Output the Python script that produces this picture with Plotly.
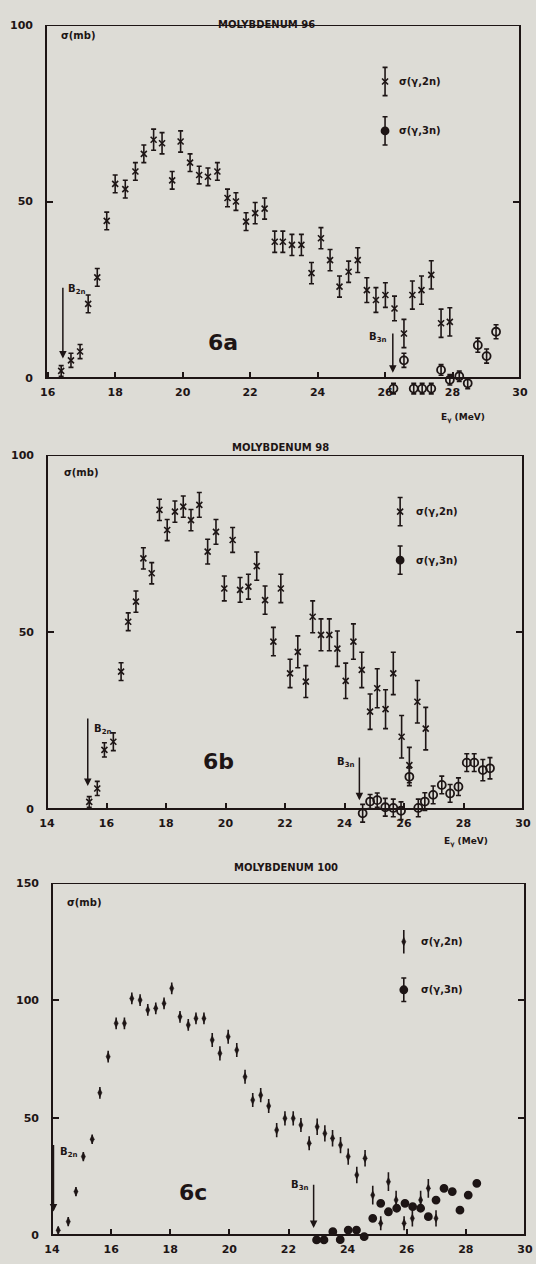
import plotly.graph_objects as go

# -------------------------------
# Data (E_gamma in MeV, sigma in mb)
# -------------------------------
# 6a  Molybdenum 96
e2n_a = [16.40, 16.69, 16.96, 17.20, 17.47, 17.75, 18.00, 18.30, 18.60, 18.85, 19.14, 19.39,
         19.69, 19.94, 20.22, 20.49, 20.75, 21.03, 21.33, 21.58, 21.88, 22.15, 22.43, 22.73,
         22.97, 23.24, 23.52, 23.82, 24.10, 24.37, 24.65, 24.92, 25.19, 25.46, 25.73, 26.01,
         26.28, 26.56, 26.81, 27.08, 27.37, 27.66, 27.92]
s2n_a = [2, 5, 7.5, 21, 28.5, 44.5, 55, 53.5, 58.5, 63.5, 67.5, 66.5,
         56, 67, 61, 57.5, 57, 58.5, 51, 50, 44.3, 46.7, 48, 38.6,
         38.6, 37.7, 37.7, 29.7, 39.6, 33.4, 25.9, 30.1, 33.4, 24.9, 22.1, 23.5,
         19.7, 12.6, 23.5, 24.9, 29.2, 15.5, 15.9]
d2n_a = [1.5, 2, 2, 2.5, 2.5, 2.5, 2.5, 2.5, 2.5, 2.5, 3, 3,
         2.5, 3, 2.5, 2.5, 2.5, 2.5, 2.5, 2.5, 2.5, 3, 3, 3,
         3, 3, 3, 3, 3, 3, 3, 3, 3.5, 3.5, 3.5, 3.5,
         3.5, 4, 4, 4, 4, 4, 4]
e3n_a = [26.25, 26.56, 26.85, 27.10, 27.37, 27.66, 27.92, 28.20, 28.45, 28.75, 29.01, 29.29]
s3n_a = [-3, 5, -3, -3, -3, 2.3, -0.5, 0.5, -1.5, 9.3, 6.2, 13.1]
d3n_a = [1.5, 2, 1.5, 1.5, 1.5, 1.5, 1.5, 1.5, 1.5, 2, 2, 2]

# 6b  Molybdenum 98
e2n_b = [15.42, 15.69, 15.93, 16.23, 16.49, 16.73, 16.99, 17.24, 17.52, 17.78, 18.04, 18.30,
         18.58, 18.84, 19.12, 19.40, 19.68, 19.96, 20.24, 20.49, 20.77, 21.05, 21.33, 21.61,
         21.86, 22.17, 22.43, 22.70, 22.93, 23.21, 23.49, 23.76, 24.04, 24.30, 24.58, 24.86,
         25.10, 25.38, 25.64, 25.92, 26.18, 26.45, 26.73]
s2n_b = [2, 5.8, 16.7, 19, 38.8, 52.9, 58.6, 70.8, 66.6, 84.5, 78.8, 84,
         85.4, 81.6, 85.9, 72.7, 78.3, 62.3, 76, 61.9, 62.8, 68.6, 59, 47.3,
         62.3, 38.3, 44.4, 36, 54.3, 49.2, 49.2, 45.3, 36.2, 47.3, 39.3, 27.5,
         34.1, 28.2, 38.3, 20.4, 12.4, 30.3, 22.7]
d2n_b = [1.5, 2, 2, 2.5, 2.5, 2.5, 3, 3, 3, 3, 3, 3,
         3, 3, 3.5, 3.5, 3.5, 3.5, 3.5, 3.5, 3.5, 4, 4, 4,
         4, 4, 4.5, 4.5, 4.5, 4.5, 4.5, 5, 5, 5, 5, 5,
         5.5, 5.5, 6, 6, 5, 6, 6]
e3n_b = [24.61, 24.86, 25.10, 25.37, 25.64, 25.90, 26.18, 26.48, 26.70, 26.98, 27.27, 27.55,
         27.83, 28.11, 28.36, 28.65, 28.89]
s3n_b = [-1.2, 2.1, 2.5, 0.5, 0.3, -0.5, 9.1, 0.3, 2.1, 4, 6.8, 4.4,
         6.3, 13.1, 13.1, 11, 11.5]
d3n_b = [2.5, 2, 2, 2.5, 2.5, 2.5, 2.5, 2.5, 2.5, 2.5, 2.5, 2.5,
         2.5, 2.5, 2.5, 3, 3]

# 6c  Molybdenum 100
e2n_c = [14.21, 14.55, 14.81, 15.06, 15.36, 15.62, 15.90, 16.17, 16.45, 16.70, 16.98, 17.24,
         17.51, 17.79, 18.05, 18.33, 18.61, 18.87, 19.14, 19.42, 19.68, 19.96, 20.25, 20.53,
         20.79, 21.06, 21.33, 21.60, 21.88, 22.16, 22.42, 22.70, 22.97, 23.23, 23.49, 23.76,
         24.02, 24.31, 24.59, 24.85, 25.12, 25.38, 25.64, 25.91, 26.19, 26.47, 26.73, 26.99]
s2n_c = [2, 5.7, 18.5, 33.4, 40.8, 60.6, 76, 90.2, 90.2, 100.8, 100.1, 95.9,
         96.6, 98.7, 105.1, 93, 89.5, 92.3, 92.3, 83.1, 77.4, 84.5, 78.8, 67.4,
         57.5, 59.6, 55, 44.7, 49.7, 49.7, 46.9, 39.1, 46.1, 43.3, 41.2, 38.3,
         33.4, 25.6, 32.7, 17, 5, 22.7, 14.9, 5, 7.1, 14.9, 19.9, 7.1]
d2n_c = [1.5, 2, 2, 2, 2, 2.5, 2.5, 2.5, 2.5, 2.5, 2.5, 2.5,
         2.5, 2.5, 2.5, 2.5, 2.5, 2.5, 2.5, 3, 3, 3, 3, 3,
         3, 3, 3, 3, 3, 3, 3, 3, 3.5, 3.5, 3.5, 3.5,
         3.5, 3.5, 3.5, 4, 3, 4, 4, 3, 3.5, 4, 4, 3.5]
e3n_c = [22.95, 23.20, 23.50, 23.75, 24.02, 24.30, 24.56, 24.85, 25.12, 25.38, 25.66, 25.94,
         26.20, 26.47, 26.73, 26.99, 27.26, 27.54, 27.80, 28.08, 28.37]
s3n_c = [-2.1, -2.1, 1.4, -2, 2.1, 2.1, -0.7, 7.1, 13.5, 9.9, 11.4, 13.5,
         12.1, 11.4, 7.8, 14.9, 19.9, 18.5, 10.6, 17, 22]

titles = ["MOLYBDENUM 96", "MOLYBDENUM 98", "MOLYBDENUM 100"]
tags = ["6a", "6b", "6c"]

INK = "#1d1515"
BG = "#dddcd6"
FONT = "DejaVu Sans"

fig = go.Figure()


def err_trace(x, y, err, ax, open_circle=False, filled=False, style="x"):
    if open_circle or filled:
        marker = dict(symbol="circle" if filled else "circle-open", size=7 if filled else 8,
                      color=INK, line=dict(color=INK, width=1.8))
    elif style == "x":
        marker = dict(symbol="x-thin", size=6, color=INK, line=dict(color=INK, width=1.6))
    else:
        marker = dict(symbol="diamond-tall", size=6, color=INK, line=dict(color=INK, width=0.5))
    return go.Scatter(
        x=x, y=y, mode="markers", marker=marker,
        error_y=dict(type="data", array=err, visible=True, color=INK,
                     thickness=1.6, width=2.5 if style == "x" else 0),
        xaxis="x" + ax, yaxis="y" + ax, showlegend=False, cliponaxis=False,
    )


# -------------------------------
# Panel traces
# -------------------------------
fig.add_trace(err_trace(e2n_a, s2n_a, d2n_a, ""))
fig.add_trace(err_trace(e3n_a, s3n_a, d3n_a, "", open_circle=True))
fig.add_trace(err_trace(e2n_b, s2n_b, d2n_b, "2"))
fig.add_trace(err_trace(e3n_b, s3n_b, d3n_b, "2", open_circle=True))
fig.add_trace(err_trace(e2n_c, s2n_c, d2n_c, "3", style="c"))
fig.add_trace(err_trace(e3n_c, s3n_c, [0] * len(e3n_c), "3", filled=True))

# legend keys (one symbol per series, inside each panel)
keys = [("", 26.0, [84, 70], "x"), ("2", 25.87, [84, 70.3], "x"), ("3", 25.9, [125, 104.5], "c")]
for ax, kx, ky, st in keys:
    fig.add_trace(err_trace([kx], [ky[0]], [4 if ax != "3" else 5], ax, style=st))
    fig.add_trace(err_trace([kx], [ky[1]], [4 if ax != "3" else 5], ax, filled=True))

# -------------------------------
# Axes: plot area reaches a little below zero so the negative points show,
# the x axis itself sits on sigma = 0 and the frame is drawn as a shape
# -------------------------------
px_w, px_h = 536, 1264
panels = [
    # suffix, top-axis suffix, left, right, top, zero (pixels), x range, y range, y ticks
    ("", "4", 46, 520, 25, 378, [15.95, 30.0], [-5, 100], [0, 50, 100]),
    ("2", "5", 47, 523, 455, 809, [14, 30], [-5, 100], [0, 50, 100]),
    ("3", "6", 52, 525, 883, 1235, [14, 30], [-4, 150], [0, 50, 100, 150]),
]
axis_font = dict(family=FONT, size=11, color=INK, weight="bold")
shapes = []
for ax, top, l, r, t, z, xr, yr, yt in panels:
    per_unit = (z - t) / yr[1]
    bottom = z - yr[0] * per_unit
    xticks = list(range(14 if ax else 16, 31, 2))
    fig.layout["xaxis" + ax] = dict(
        domain=[l / px_w, r / px_w], range=xr, anchor="free", position=1 - z / px_h,
        tickvals=xticks, ticks="inside", ticklen=6, tickwidth=1.5,
        tickcolor=INK, showline=False, automargin=False,
        showgrid=False, zeroline=False, tickfont=axis_font, ticklabelstandoff=6,
    )
    # tick marks along the top edge of the frame
    fig.layout["xaxis" + top] = dict(
        domain=[l / px_w, r / px_w], range=xr, anchor="y" + ax, side="top",
        overlaying="x" + ax, tickvals=xticks, ticks="inside", ticklen=6, tickwidth=1.5,
        tickcolor=INK, showline=False, showticklabels=False, automargin=False,
        showgrid=False, zeroline=False,
    )
    fig.layout["yaxis" + ax] = dict(
        domain=[1 - bottom / px_h, 1 - t / px_h], range=yr, anchor="x" + ax,
        tickvals=yt, ticks="inside", ticklen=7, tickwidth=1.5, tickcolor=INK,
        showline=False, mirror="ticks", automargin=False,
        showgrid=False, zeroline=False, tickfont=axis_font, ticklabelstandoff=12,
    )
    shapes.append(dict(type="rect", xref="x" + ax + " domain", yref="y" + ax,
                       x0=0, x1=1, y0=0, y1=yr[1], line=dict(color=INK, width=2)))

# -------------------------------
# Text and threshold arrows
# -------------------------------
ann = []
title_pos = [(266, 17), (280, 447), (286, 875)]
for (tx, ty), txt in zip(title_pos, titles):
    ann.append(dict(x=tx / px_w, y=1 - ty / px_h, xref="paper", yref="paper", text=txt,
                    showarrow=False, font=dict(family=FONT, size=10, color=INK, weight="bold")))

tag_pos = [("", 21.2, 10), ("2", 19.75, 13.3), ("3", 18.77, 18)]
for (ax, tx, ty), txt in zip(tag_pos, tags):
    ann.append(dict(x=tx, y=ty, xref="x" + ax, yref="y" + ax, text=txt, showarrow=False,
                    font=dict(family=FONT, size=22, color=INK, weight="bold")))

sig_pos = [("", 16.35, 97), ("2", 14.5, 95), ("3", 14.45, 141.5)]
for ax, tx, ty in sig_pos:
    ann.append(dict(x=tx, y=ty, xref="x" + ax, yref="y" + ax, text="σ(mb)", showarrow=False,
                    xanchor="left", font=dict(family=FONT, size=10, color=INK, weight="bold")))

for ax, tx, ty in [("", 26.35, 84), ("2", 26.35, 84), ("3", 26.4, 125)]:
    ann.append(dict(x=tx, y=ty, xref="x" + ax, yref="y" + ax, text="σ(γ,2n)", showarrow=False,
                    xanchor="left", font=dict(family=FONT, size=10, color=INK, weight="bold")))
for ax, tx, ty in [("", 26.35, 70), ("2", 26.35, 70.3), ("3", 26.4, 104.5)]:
    ann.append(dict(x=tx, y=ty, xref="x" + ax, yref="y" + ax, text="σ(γ,3n)", showarrow=False,
                    xanchor="left", font=dict(family=FONT, size=10, color=INK, weight="bold")))

# threshold arrows: axis, x, tail y, head y, label, label x, label y, anchor
thresholds = [
    ("", 16.45, 26, 5.5, "B<sub>2n</sub>", 16.55, 25, "left"),
    ("", 26.23, 13, 1.5, "B<sub>3n</sub>", 26.1, 11.5, "right"),
    ("2", 15.37, 26, 6.5, "B<sub>2n</sub>", 15.5, 22.5, "left"),
    ("2", 24.5, 15, 2.5, "B<sub>3n</sub>", 24.37, 13, "right"),
    ("3", 14.05, 39, 10, "B<sub>2n</sub>", 14.2, 35, "left"),
    ("3", 22.85, 22, 3, "B<sub>3n</sub>", 22.72, 21, "right"),
]
for ax, x0, ytail, yhead, lab, lx, ly, anc in thresholds:
    ann.append(dict(x=x0, y=yhead, ax=x0, ay=ytail, xref="x" + ax, yref="y" + ax,
                    axref="x" + ax, ayref="y" + ax, text="", showarrow=True, arrowhead=2,
                    arrowsize=1, arrowwidth=1.5, arrowcolor=INK))
    ann.append(dict(x=lx, y=ly, xref="x" + ax, yref="y" + ax, text=lab, showarrow=False,
                    xanchor=anc, font=dict(family=FONT, size=10, color=INK, weight="bold")))

for tx, ty in [(487, 410), (490, 850)]:
    ann.append(dict(x=tx / px_w, y=1 - ty / px_h, xref="paper", yref="paper",
                    text="E<sub>γ</sub> (MeV)", showarrow=False,
                    font=dict(family=FONT, size=9, color=INK, weight="bold")))

fig.update_layout(
    width=px_w, height=px_h, margin=dict(l=0, r=0, t=0, b=0),
    paper_bgcolor=BG, plot_bgcolor=BG, annotations=ann, shapes=shapes, showlegend=False,
)

# the page's default body margin would shift the figure by 8 px
fig.write_html("out.html", config={"displayModeBar": False},
               post_script="document.body.style.margin = '0';")
